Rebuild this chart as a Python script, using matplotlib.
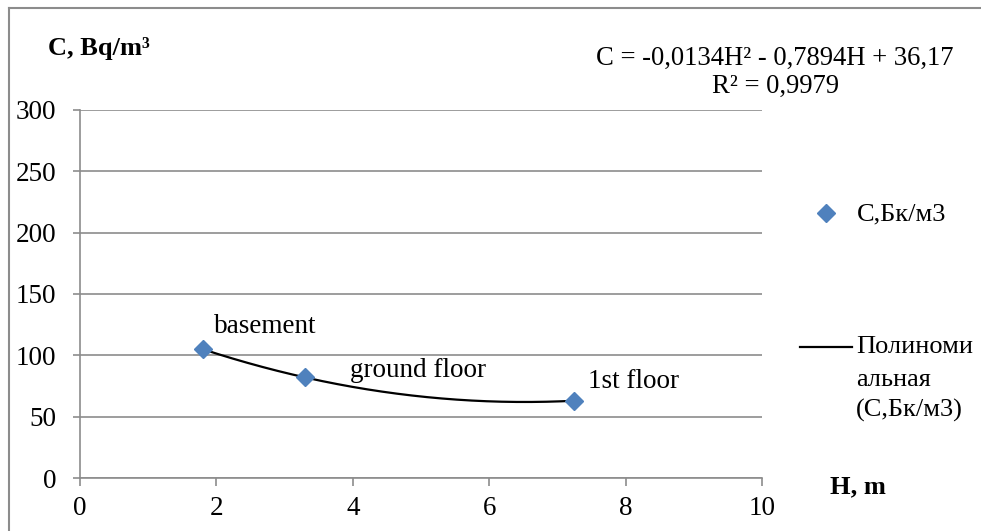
import matplotlib.pyplot as plt
from matplotlib.lines import Line2D
import numpy as np

# data
heights = [1.8, 3.3, 7.25]
conc = [105, 82, 63]
floor_labels = ["basement", "ground floor", "1st floor"]
x_ticks = [0, 2, 4, 6, 8, 10]
y_ticks = [0, 50, 100, 150, 200, 250, 300]
equation = "C = -0,0134H\u00b2 - 0,7894H + 36,17"
r2_text = "R\u00b2 = 0,9979"

plt.rcParams['font.family'] = ['Liberation Serif', 'DejaVu Serif']

W, H = 981, 531
fig = plt.figure(figsize=(W / 100, H / 100), dpi=100)

def fx(px):
    return px / W

def fy(py):
    return 1 - py / H

ax = fig.add_axes([fx(80), fy(478), fx(762) - fx(80), fy(110) - fy(478)])

grid_col = '#8c8c8c'
blue = '#4f81bd'
fs = 19

# polynomial trend line (2nd order) through the points
coef = np.polyfit(heights, conc, 2)
xs = np.linspace(heights[0], heights[-1], 200)
ax.plot(xs, np.polyval(coef, xs), color='black', lw=1.6, zorder=3)

ax.plot(heights, conc, linestyle='none', marker='D', ms=9.5,
        color=blue, markeredgecolor=blue, zorder=4)

# point labels
offsets = [(8, 16), (32, 5), (10, 14)]
for x, y, lab, off in zip(heights, conc, floor_labels, offsets):
    ax.annotate(lab, (x, y), xytext=off, textcoords='offset points',
                fontsize=19.5, ha='left', va='center')

ax.set_xlim(0, 10)
ax.set_ylim(0, 300)
ax.set_xticks(x_ticks)
ax.set_yticks(y_ticks)
ax.yaxis.grid(True, color=grid_col, lw=1.2)
ax.set_axisbelow(True)
for s in ['top', 'right']:
    ax.spines[s].set_visible(False)
for s in ['left', 'bottom']:
    ax.spines[s].set_color(grid_col)
    ax.spines[s].set_linewidth(1.2)
ax.tick_params(axis='y', length=5, color=grid_col, width=1.2, pad=12, labelsize=19.5)
ax.tick_params(axis='x', length=6, color=grid_col, width=1.2, pad=7, labelsize=19.5)

# axis titles
fig.text(fx(48), fy(48), "C, Bq/m\u00b3", fontsize=fs, fontweight='bold', va='center')
fig.text(fx(830), fy(487), "H, m", fontsize=fs, fontweight='bold', va='center')

# trend equation
fig.text(fx(775), fy(58), equation, fontsize=19.2, ha='center', va='center')
fig.text(fx(775), fy(86), r2_text, fontsize=19.2, ha='center', va='center')

# legend
fig.add_artist(Line2D([fx(826)], [fy(213)], marker='D', ms=9.5, color=blue,
                      linestyle='none', transform=fig.transFigure))
fig.text(fx(857), fy(214), "С,Бк/м3", fontsize=fs, va='center')
fig.add_artist(Line2D([fx(800), fx(852)], [fy(347), fy(347)], color='black',
                      lw=1.6, transform=fig.transFigure))
fig.text(fx(856), fy(347), "Полиноми", fontsize=fs, va='center')
fig.text(fx(856), fy(380), "альная", fontsize=fs, va='center')
fig.text(fx(856), fy(410), "(С,Бк/м3)", fontsize=fs, va='center')

# chart border
fig.add_artist(Line2D([fx(9), fx(9)], [fy(8), 0], color=grid_col, lw=1.5,
                      transform=fig.transFigure))
fig.add_artist(Line2D([fx(9), 1], [fy(8), fy(8)], color=grid_col, lw=1.5,
                      transform=fig.transFigure))

fig.savefig("out.png", dpi=100)
